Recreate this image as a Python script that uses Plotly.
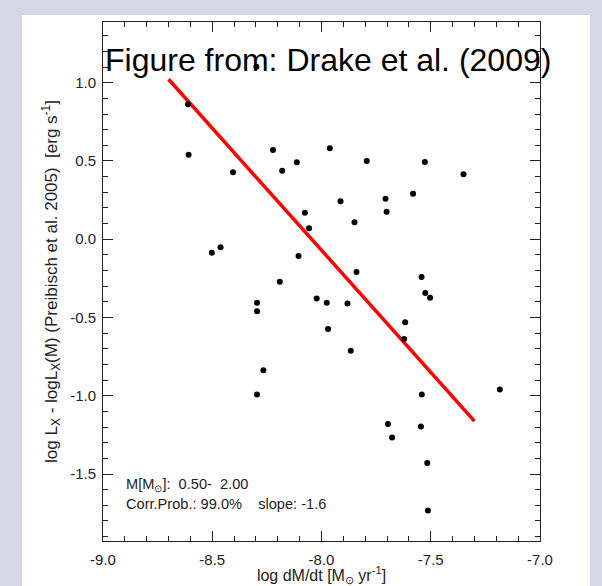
import plotly.graph_objects as go

# Accretion rate vs. X-ray luminosity residual
log_mdot = [
    -8.611, -8.608, -8.405, -8.222, -8.180, -8.113, -7.962, -8.076, -8.057,
    -8.502, -8.462, -8.105, -8.191, -8.022, -8.298, -7.793, -7.527, -7.350,
    -7.913, -7.707, -7.702, -7.581, -7.849, -7.840, -7.542, -7.525, -7.503,
    -8.295, -8.295, -8.266, -8.295, -7.976, -7.970, -7.881, -7.866, -7.617,
    -7.622, -7.541, -7.696, -7.677, -7.545, -7.516, -7.513, -7.184,
]
dlog_lx = [
    0.862, 0.540, 0.428, 0.570, 0.438, 0.492, 0.581, 0.170, 0.070,
    -0.086, -0.051, -0.107, -0.271, -0.379, 1.102, 0.500, 0.494, 0.415,
    0.243, 0.259, 0.176, 0.291, 0.109, -0.209, -0.241, -0.344, -0.374,
    -0.405, -0.460, -0.837, -0.992, -0.405, -0.573, -0.411, -0.713, -0.530,
    -0.637, -0.992, -1.181, -1.267, -1.197, -1.430, -1.733, -0.960,
]

# Linear fit
fit_slope = -1.56
fit_intercept = -12.55
fit_x = [-8.7, -7.3]
fit_y = [fit_intercept + fit_slope * x for x in fit_x]

x_ticks = [-9.0, -8.5, -8.0, -7.5, -7.0]
x_ticktext = ["-9.0", "-8.5", "-8.0", "-7.5", "-7.0"]
y_ticks = [1.0, 0.5, 0.0, -0.5, -1.0, -1.5]
y_ticktext = ["1.0", "0.5", "0.0", "-0.5", "-1.0", "-1.5"]

FONT = "Liberation Sans, Arial, sans-serif"
INK = "#222222"

fig = go.Figure()
fig.add_trace(go.Scatter(
    x=fit_x, y=fit_y, mode="lines",
    line=dict(color="#ff0000", width=3.5),
    hoverinfo="skip", showlegend=False,
))
fig.add_trace(go.Scatter(
    x=log_mdot, y=dlog_lx, mode="markers",
    marker=dict(color="black", size=6),
    showlegend=False,
))

axis_common = dict(
    showgrid=False, zeroline=False, automargin=False,
    showline=True, linecolor=INK, linewidth=1, mirror="allticks",
    ticks="inside", ticklen=10, tickwidth=1, tickcolor=INK,
    tickfont=dict(family=FONT, size=15, color=INK),
)

fig.update_xaxes(
    **axis_common,
    range=[-9.0, -7.0], tickvals=x_ticks, ticktext=x_ticktext,
    ticklabelstandoff=5,
    minor=dict(dtick=0.1, ticks="inside", ticklen=5, tickwidth=1, tickcolor=INK),
    title=dict(text="log dM/dt [M<sub>⊙</sub> yr<sup>-1</sup>]",
               font=dict(family=FONT, size=16, color=INK), standoff=5),
)
fig.update_yaxes(
    **axis_common,
    range=[-1.928, 1.388], tickvals=y_ticks, ticktext=y_ticktext,
    ticklabelstandoff=3,
    minor=dict(dtick=0.1, ticks="inside", ticklen=5, tickwidth=1, tickcolor=INK),
    title=dict(text="log L<sub>X</sub> - logL<sub>X</sub>(M) (Preibisch et al. 2005)\u00a0 [erg s<sup>-1</sup>]",
               font=dict(family=FONT, size=17, color=INK), standoff=8),
)

# White slide panel behind the chart
fig.add_shape(type="rect", xref="paper", yref="paper",
              x0=-0.1854, x1=1.1144, y0=-0.12, y1=1.0135,
              fillcolor="white", line=dict(width=0), layer="below")

fig.add_annotation(
    text="Figure from: Drake et al. (2009)",
    xref="paper", yref="paper", x=0.0, y=0.927,
    xanchor="left", yanchor="middle", showarrow=False,
    font=dict(family=FONT, size=32, color="black"),
)
fig.add_annotation(
    text="M[M<sub>⊙</sub>]:\u00a0 0.50-\u00a0 2.00",
    xref="paper", yref="paper", x=0.048, y=0.108,
    xanchor="left", yanchor="middle", showarrow=False,
    font=dict(family=FONT, size=14.6, color=INK),
)
fig.add_annotation(
    text="Corr.Prob.: 99.0%\u00a0\u00a0\u00a0 slope: -1.6",
    xref="paper", yref="paper", x=0.048, y=0.0713,
    xanchor="left", yanchor="middle", showarrow=False,
    font=dict(family=FONT, size=14.6, color=INK),
)

fig.update_layout(
    width=602, height=586,
    margin=dict(l=103, r=62, t=22, b=45),
    paper_bgcolor="#d6d6e7",
    plot_bgcolor="white",
    font=dict(family=FONT),
)

fig.write_html("out.html")
